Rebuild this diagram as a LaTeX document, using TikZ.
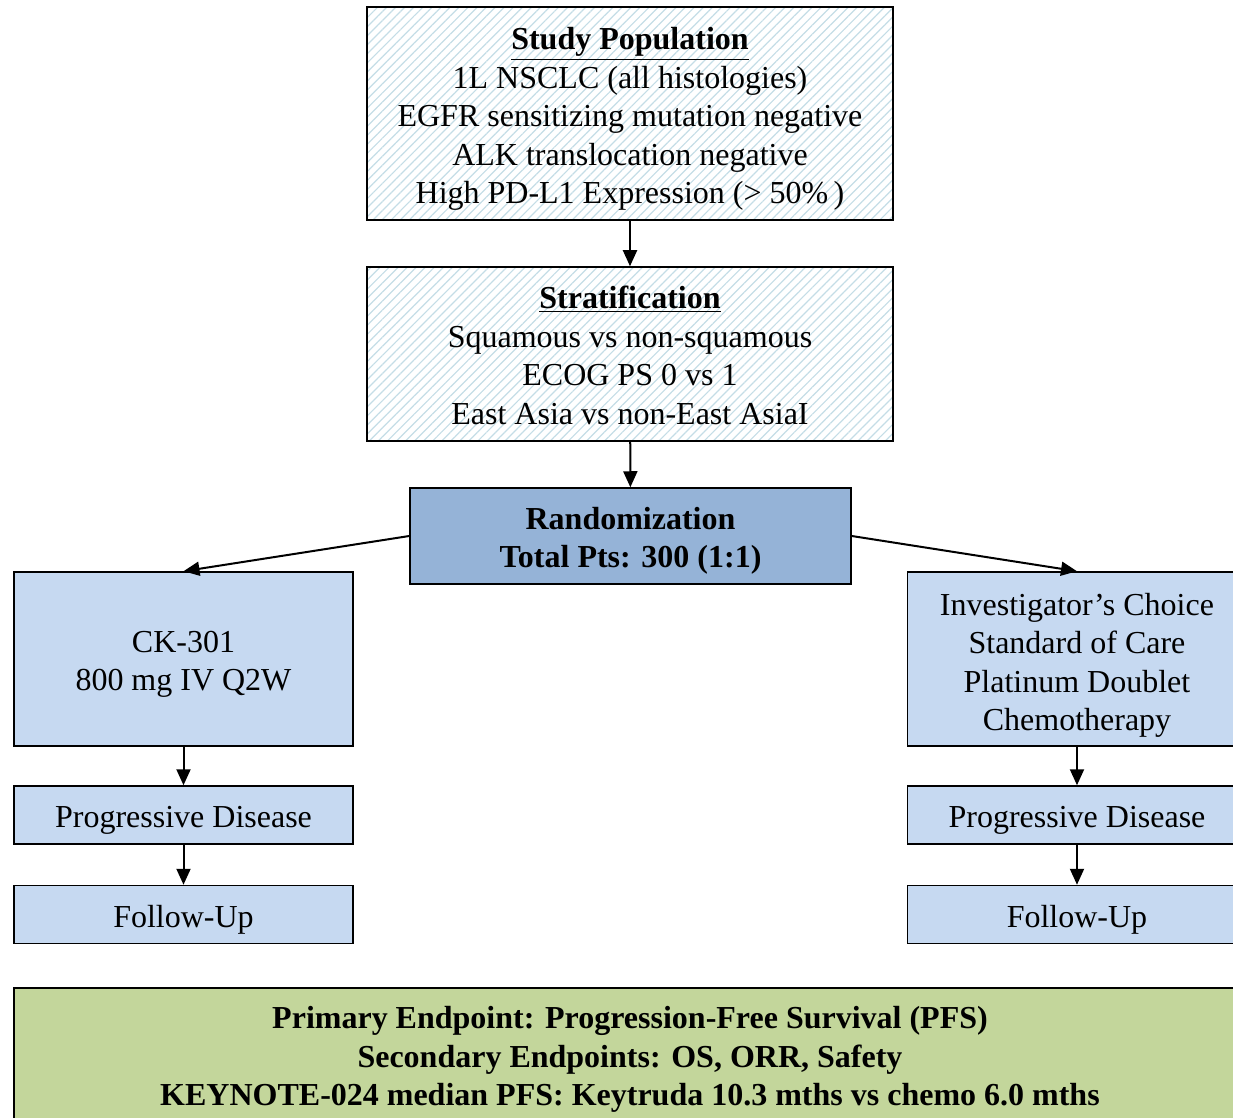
\documentclass[tikz,border=0pt]{standalone}
\usepackage{fontspec}
\setmainfont{Liberation Serif}
\usetikzlibrary{positioning,arrows.meta,patterns.meta}

\definecolor{hatchblue}{RGB}{196,221,230}
\definecolor{randblue}{RGB}{149,179,215}
\definecolor{armblue}{RGB}{198,217,241}
\definecolor{endgreen}{RGB}{195,214,155}

% raises the first line so the text sits a bit lower in its box
\newcommand\padtop[1]{\rule{0pt}{#1}}

\begin{document}
\begin{tikzpicture}[
  x=0.5pt, y=-0.5pt,
  font=\fontsize{16}{19.25}\selectfont,
  hatched/.style={draw, line width=0.75pt, align=center, inner sep=0pt,
                  minimum width=263pt,
                  pattern={Lines[angle=45,distance=3.2pt,line width=0.6pt]},
                  pattern color=hatchblue},
  armbox/.style={draw, line width=0.75pt, align=center, inner sep=0pt,
                 minimum width=169.5pt, fill=armblue},
  flow/.style={-{Triangle[length=8pt,width=7pt]}, line width=1pt},
]
  \useasboundingbox (0,0) rectangle (1233,1118);
  \clip (0,0) rectangle (1233,1118);

  % screening and stratification
  \node[hatched, minimum height=106.5pt] (pop) at (630,113.5) {%
    \padtop{16.5pt}\textbf{\underline{Study Population}}\\
    1L NSCLC (all histologies)\\
    EGFR sensitizing mutation negative\\
    ALK translocation negative\\
    High PD-L1 Expression (> 50\%\,)};

  \node[hatched, minimum height=87pt] (strat) at (630,354) {%
    \padtop{12.5pt}\textbf{\underline{Stratification}}\\
    Squamous vs non-squamous\\
    ECOG PS 0 vs 1\\
    East Asia vs non-East AsiaI};

  \node[draw, line width=0.75pt, align=center, inner sep=0pt, fill=randblue,
        minimum width=220.5pt, minimum height=48pt, font=\fontsize{16}{19.25}\selectfont\bfseries]
    (rand) at (630.5,536) {\padtop{16pt}Randomization\\Total Pts: 300 (1:1)};

  % treatment arms
  \node[armbox, minimum height=87pt] (ck) at (183.5,659) {\padtop{16pt}CK-301\\800 mg IV Q2W};
  \node[armbox, minimum height=87pt] (soc) at (1077,659) {%
    \padtop{17.5pt}Investigator’s Choice\\Standard of Care\\Platinum Doublet\\Chemotherapy};

  \node[armbox, minimum height=29pt] (pdl) at (183.5,815) {\padtop{16pt}Progressive Disease};
  \node[armbox, minimum height=29pt] (ful) at (183.5,914.5) {\padtop{16pt}Follow-Up};
  \node[armbox, minimum height=29pt] (pdr) at (1077,815) {\padtop{16pt}Progressive Disease};
  \node[armbox, minimum height=29pt] (fur) at (1077,914.5) {\padtop{16pt}Follow-Up};

  \draw[flow] (pop) -- (strat);
  \draw[flow] (strat) -- (rand);
  \draw[flow] (rand.west) -- (ck.north);
  \draw[flow] (rand.east) -- (soc.north);
  \draw[flow] (ck) -- (pdl);
  \draw[flow] (pdl) -- (ful);
  \draw[flow] (soc) -- (pdr);
  \draw[flow] (pdr) -- (fur);

  % endpoints
  \node[draw, line width=0.75pt, align=center, inner sep=0pt, fill=endgreen,
        minimum width=616pt, minimum height=76pt, font=\fontsize{16}{19.25}\selectfont\bfseries]
    (endp) at (630,1064) {%
    Primary Endpoint: Progression-Free Survival (PFS)\\
    Secondary Endpoints: OS, ORR, Safety\\
    KEYNOTE-024 median PFS: Keytruda 10.3 mths vs chemo 6.0 mths\rule[-8pt]{0pt}{0pt}};
\end{tikzpicture}
\end{document}
